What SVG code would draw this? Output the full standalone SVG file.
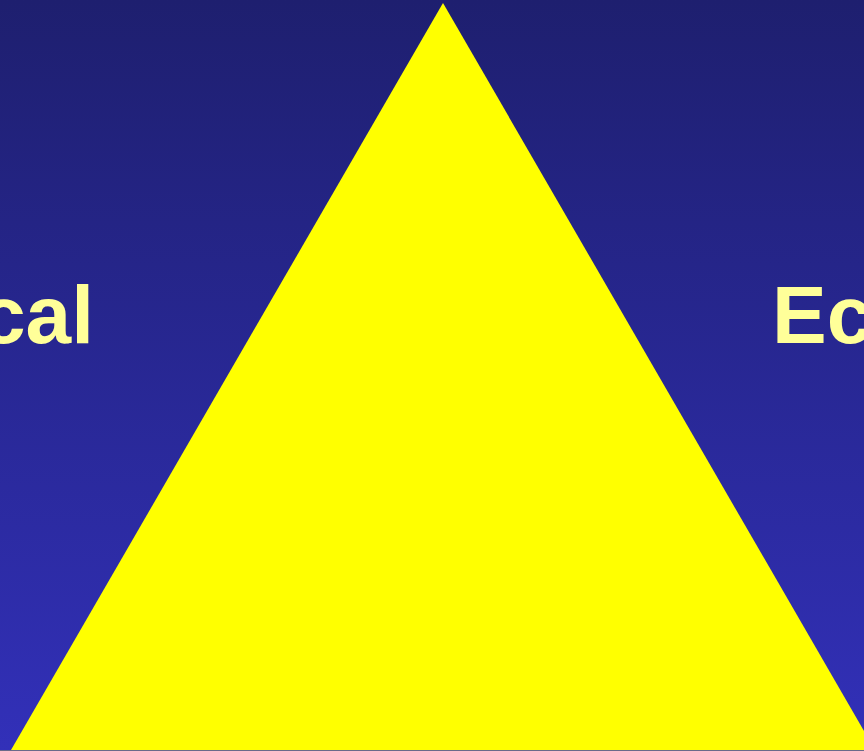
<svg xmlns="http://www.w3.org/2000/svg" width="864" height="751" viewBox="0 0 864 751">
<defs>
<linearGradient id="bg" x1="0" y1="0" x2="0" y2="1">
<stop offset="0" stop-color="#1E1F6F"/>
<stop offset="1" stop-color="#3230B9"/>
</linearGradient>
<style>
.lbl{font-family:"Liberation Sans",Arial,sans-serif;font-weight:bold;font-size:82px;fill:#FFFF99}
</style>
</defs>
<rect x="0" y="0" width="864" height="751" fill="url(#bg)"/>
<g id="triangle">
<polygon points="443,3 11,750 875,750" fill="#FFFF00"/>
</g>
<g id="label-left">
<text class="lbl" x="94" y="343" text-anchor="end">cal</text>
</g>
<g id="label-right">
<text class="lbl" x="772" y="343">Ec</text>
</g>
<line x1="0" y1="750.5" x2="864" y2="750.5" stroke="#6A6A8A" stroke-width="1"/>
</svg>
